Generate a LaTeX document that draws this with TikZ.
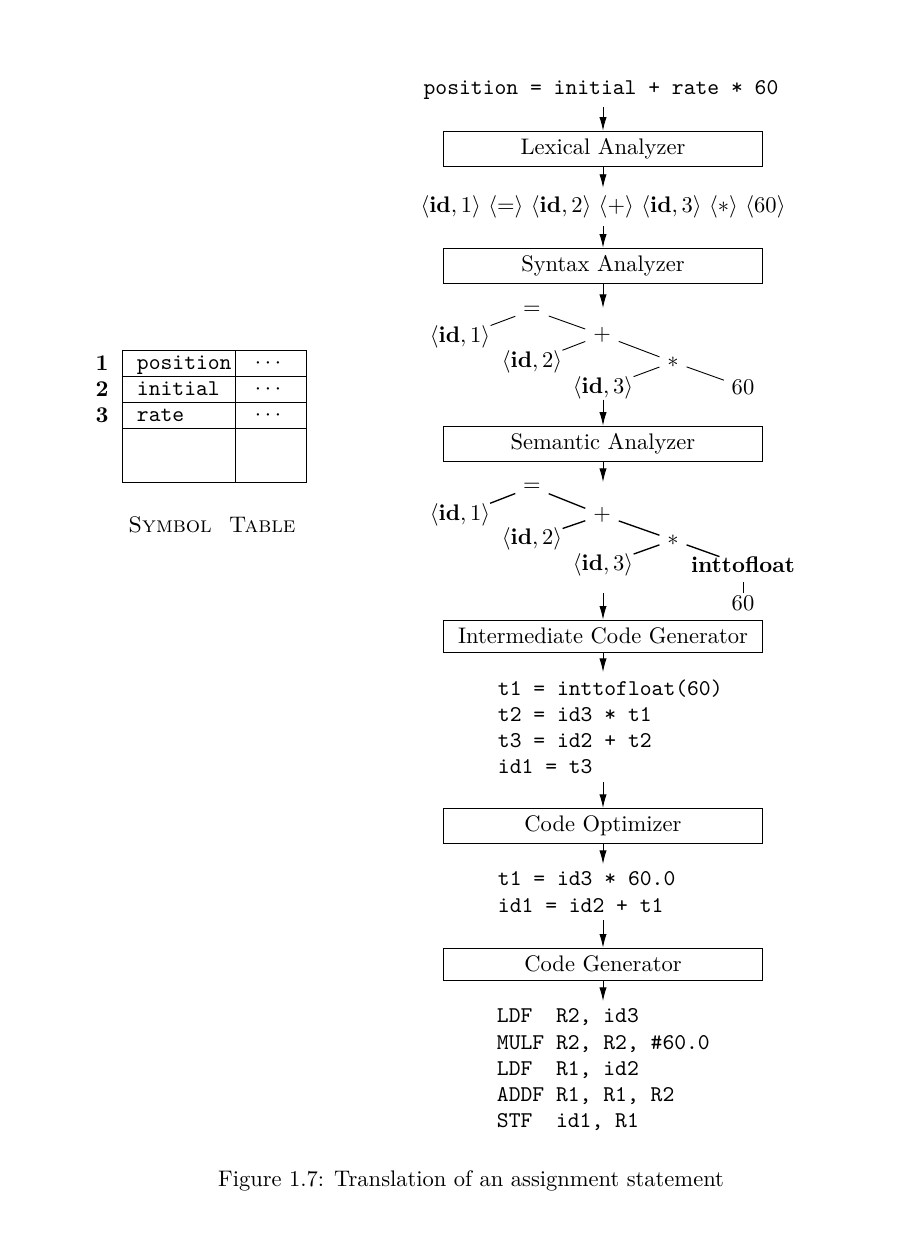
\documentclass[tikz,border=0pt]{standalone}
\usepackage{amsmath, amssymb}
\usepackage{tikz}
\usetikzlibrary{arrows.meta}

\begin{document}
\begin{tikzpicture}[x=0.444pt, y=-0.444pt,
    phase/.style={draw, rectangle, minimum width=142pt, minimum height=14.2pt},
    flow/.style={-{Latex[length=6pt, width=3.2pt]}},
    leaf/.style={inner sep=0pt},
    code/.style={anchor=north west, align=left, font={\ttfamily\fontsize{10}{11.6}\selectfont}}]
                \useasboundingbox (0,0) rectangle (898,1260);

                % Nodes
                \node (Source) at (601, 90) {\texttt{position = initial + rate * 60}};
                \node[phase] (Lexical) at (603, 149) {Lexical Analyzer};
                \node (Tokens) at (603, 207) {$\langle\mathbf{id},1\rangle$ $\langle=\rangle$ $\langle\mathbf{id},2\rangle$ $\langle+\rangle$ $\langle\mathbf{id},3\rangle$ $\langle*\rangle$ $\langle60\rangle$};
                \node[phase] (Syntax) at (603, 266) {Syntax Analyzer};
                \node[phase] (Semantic) at (603, 444) {Semantic Analyzer};
                \node[phase] (Intermediate) at (603, 636) {Intermediate Code Generator};
                \node[code] (ThreeAddr) at (490, 672) {t1 = inttofloat(60)\\t2 = id3 * t1\\t3 = id2 + t2\\id1 = t3};
                \node[phase] (Optimizer) at (603, 826) {Code Optimizer};
                \node[code] (OptCode) at (490, 864) {t1 = id3 * 60.0\\id1 = id2 + t1};
                \node[phase] (Generator) at (603, 964) {Code Generator};
                \node[code] (TargetCode) at (489, 1001) {LDF\ \ R2, id3\\MULF R2, R2, \#60.0\\LDF\ \ R1, id2\\ADDF R1, R1, R2\\STF\ \ id1, R1};

                % Syntax tree
                \node (SynAssign) at (532, 310) {$=$};
                \node[leaf] (SynId1) at (460, 337) {$\langle\mathbf{id},1\rangle$};
                \node (SynPlus) at (602, 335) {$+$};
                \node[leaf] (SynId2) at (532, 362) {$\langle\mathbf{id},2\rangle$};
                \node (SynTimes) at (673, 362) {$*$};
                \node[leaf] (SynId3) at (603, 388) {$\langle\mathbf{id},3\rangle$};
                \node (SynSixty) at (743, 387) {60};
                \coordinate (SynIn) at (603, 308);

                % Semantic tree
                \node (SemAssign) at (532, 487) {$=$};
                \node[leaf] (SemId1) at (460, 515) {$\langle\mathbf{id},1\rangle$};
                \node (SemPlus) at (602, 515) {$+$};
                \node[leaf] (SemId2) at (532, 539) {$\langle\mathbf{id},2\rangle$};
                \node (SemTimes) at (673, 540) {$*$};
                \node[leaf] (SemId3) at (603, 565) {$\langle\mathbf{id},3\rangle$};
                \node[leaf] (SemToFloat) at (743, 565) {\textbf{inttofloat}};
                \node[inner sep=1pt] (SemSixty) at (743, 603) {60};
                \coordinate (SemIn) at (603, 482);
                \coordinate (SemOut) at (603, 593);

                % Symbol table
                \draw (122, 350) rectangle (306, 482);
                \draw (235, 350) -- (235, 482);
                \draw (122, 376) -- (306, 376);
                \draw (122, 402) -- (306, 402);
                \draw (122, 428) -- (306, 428);
                \node[anchor=base] (RowOne) at (102, 370) {\textbf{1}};
                \node[anchor=base] (RowTwo) at (102, 396) {\textbf{2}};
                \node[anchor=base] (RowThree) at (102, 422) {\textbf{3}};
                \node[anchor=base west] (NamePosition) at (129, 369) {\texttt{position}};
                \node[anchor=base west] (NameInitial) at (129, 395) {\texttt{initial}};
                \node[anchor=base west] (NameRate) at (129, 421) {\texttt{rate}};
                \node (AttrOne) at (270, 363) {$\cdots$};
                \node (AttrTwo) at (270, 389) {$\cdots$};
                \node (AttrThree) at (270, 415) {$\cdots$};
                \node (SymLabel) at (212, 525) {\textsc{Symbol\ \ Table}};

                \node (Caption) at (471, 1181) {Figure 1.7: Translation of an assignment statement};

                % Edges
                \draw[flow] (Source.south -| Lexical) -- (Lexical);
                \draw[flow] (Lexical) -- (Tokens);
                \draw[flow] (Tokens) -- (Syntax);
                \draw[flow] (Syntax) -- (SynIn);
                \draw[flow] (SynId3) -- (Semantic);
                \draw[flow] (Semantic) -- (SemIn);
                \draw[flow] (SemOut) -- (Intermediate);
                \draw[flow] (Intermediate) -- (Intermediate |- ThreeAddr.north);
                \draw[flow] (Optimizer |- ThreeAddr.south) -- (Optimizer);
                \draw[flow] (Optimizer) -- (Optimizer |- OptCode.north);
                \draw[flow] (Generator |- OptCode.south) -- (Generator);
                \draw[flow] (Generator) -- (Generator |- TargetCode.north);

                % Syntax tree branches
                \draw (SynAssign) -- (SynId1);
                \draw (SynAssign) -- (SynPlus);
                \draw (SynPlus) -- (SynId2);
                \draw (SynPlus) -- (SynTimes);
                \draw (SynTimes) -- (SynId3);
                \draw (SynTimes) -- (SynSixty);

                % Semantic tree branches
                \draw[semithick] (SemAssign) -- (SemId1);
                \draw[semithick] (SemAssign) -- (SemPlus);
                \draw[semithick] (SemPlus) -- (SemId2);
                \draw[semithick] (SemPlus) -- (SemTimes);
                \draw[semithick] (SemTimes) -- (SemId3);
                \draw[semithick] (SemTimes) -- (SemToFloat);
                \draw[shorten <=4pt] (SemToFloat) -- (SemSixty);

            \end{tikzpicture}
\end{document}
